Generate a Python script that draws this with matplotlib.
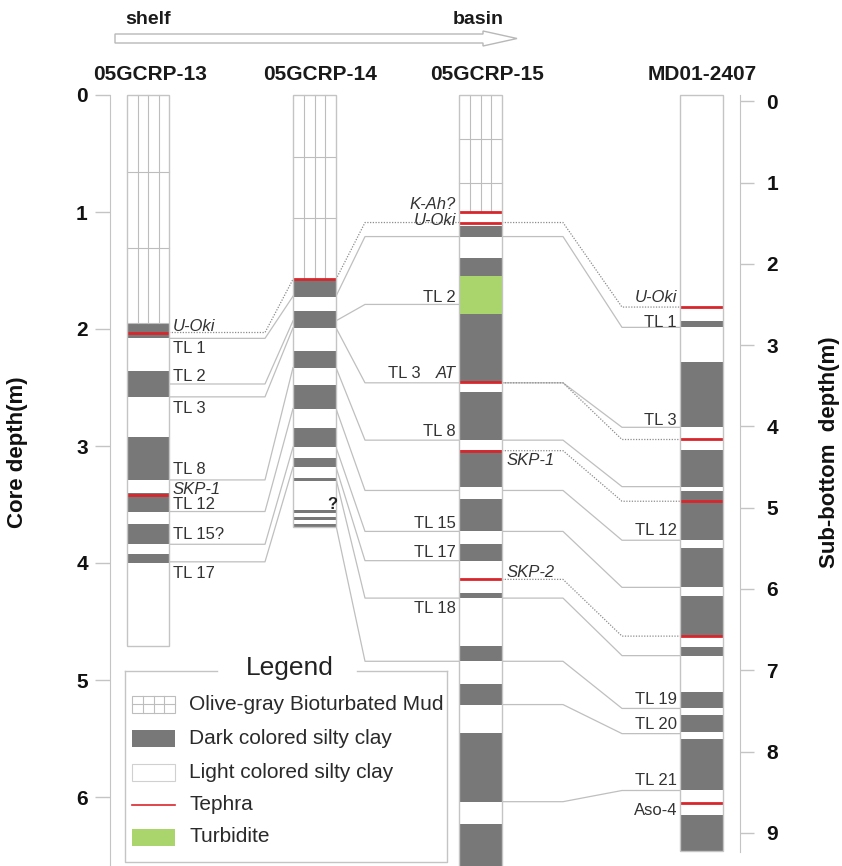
import matplotlib
matplotlib.use("Agg")
import matplotlib.pyplot as plt
from matplotlib.patches import Rectangle, Polygon

plt.rcParams['font.family'] = ['Liberation Sans', 'DejaVu Sans']

# ---------------- lithology data (depth in m) ----------------
# (top, base, kind): bio = olive-gray bioturbated mud, dark/light silty clay, turb = turbidite
core13_units = [(0.00, 1.95, 'bio'), (1.95, 2.08, 'dark'), (2.08, 2.36, 'light'), (2.36, 2.58, 'dark'),
                (2.58, 2.92, 'light'), (2.92, 3.29, 'dark'), (3.29, 3.40, 'light'), (3.40, 3.56, 'dark'),
                (3.56, 3.67, 'light'), (3.67, 3.84, 'dark'), (3.84, 3.92, 'light'), (3.92, 4.00, 'dark'),
                (4.00, 4.71, 'light')]
core13_tephra = [2.03, 3.42]
core13_grid = [0.66, 1.31]

core14_units = [(0.00, 1.57, 'bio'), (1.57, 1.73, 'dark'), (1.73, 1.85, 'light'), (1.85, 1.99, 'dark'),
                (1.99, 2.19, 'light'), (2.19, 2.33, 'dark'), (2.33, 2.48, 'light'), (2.48, 2.68, 'dark'),
                (2.68, 2.85, 'light'), (2.85, 3.01, 'dark'), (3.01, 3.10, 'light'), (3.10, 3.18, 'dark'),
                (3.18, 3.27, 'light'), (3.27, 3.295, 'dark'), (3.295, 3.55, 'light'), (3.55, 3.575, 'dark'),
                (3.575, 3.61, 'light'), (3.61, 3.635, 'dark'), (3.635, 3.665, 'light'), (3.665, 3.69, 'dark')]
core14_tephra = [1.575]
core14_grid = [0.53, 1.05]

core15_units = [(0.00, 1.00, 'bio'), (1.00, 1.12, 'light'), (1.12, 1.21, 'dark'), (1.21, 1.39, 'light'),
                (1.39, 1.55, 'dark'), (1.55, 1.87, 'turb'), (1.87, 2.46, 'dark'), (2.46, 2.54, 'light'),
                (2.54, 2.95, 'dark'), (2.95, 3.03, 'light'), (3.03, 3.35, 'dark'), (3.35, 3.45, 'light'),
                (3.45, 3.73, 'dark'), (3.73, 3.84, 'light'), (3.84, 3.98, 'dark'), (3.98, 4.26, 'light'),
                (4.26, 4.30, 'dark'), (4.30, 4.71, 'light'), (4.71, 4.84, 'dark'), (4.84, 5.03, 'light'),
                (5.03, 5.21, 'dark'), (5.21, 5.45, 'light'), (5.45, 6.04, 'dark'), (6.04, 6.23, 'light'),
                (6.23, 6.70, 'dark')]
core15_tephra = [1.00, 1.09, 2.455, 3.04, 4.14]
core15_grid = [0.38, 0.75]

md_units = [(0.00, 2.70, 'light'), (2.70, 2.78, 'dark'), (2.78, 3.21, 'light'), (3.21, 4.01, 'dark'),
            (4.01, 4.29, 'light'), (4.29, 4.74, 'dark'), (4.74, 4.80, 'light'), (4.80, 5.40, 'dark'),
            (5.40, 5.49, 'light'), (5.49, 5.98, 'dark'), (5.98, 6.08, 'light'), (6.08, 6.58, 'dark'),
            (6.58, 6.71, 'light'), (6.71, 6.82, 'dark'), (6.82, 7.27, 'light'), (7.27, 7.46, 'dark'),
            (7.46, 7.55, 'light'), (7.55, 7.76, 'dark'), (7.76, 7.85, 'light'), (7.85, 8.47, 'dark'),
            (8.47, 8.78, 'light'), (8.78, 9.23, 'dark')]
md_tephra = [2.53, 4.16, 4.92, 6.58, 8.63]

core_names = ['05GCRP-13', '05GCRP-14', '05GCRP-15', 'MD01-2407']

# ---------------- correlations: (depth in upper core, depth in lower core, dotted?) ----------------
tie_13_14 = [(2.03, 1.575, True), (2.08, 1.72, False), (2.47, 1.93, False), (2.58, 1.99, False),
             (3.29, 2.33, False), (3.56, 2.68, False), (3.84, 3.01, False), (3.99, 3.18, False)]
tie_14_15 = [(1.575, 1.09, True), (1.72, 1.21, False), (1.93, 1.79, False), (1.99, 2.46, False),
             (2.33, 2.95, False), (2.68, 3.38, False), (3.01, 3.73, False), (3.18, 3.98, False),
             (3.28, 4.30, False), (3.68, 4.84, False)]
tie_15_md = [(1.09, 2.53, True), (1.21, 2.78, False), (2.46, 4.01, False), (2.46, 4.16, True),
             (2.95, 4.74, False), (3.04, 4.92, True), (3.38, 5.40, False), (3.73, 5.98, False),
             (4.14, 6.58, True), (4.30, 6.82, False), (4.84, 7.47, False), (5.21, 7.78, False),
             (6.04, 8.48, False)]

# ---------------- labels: (text, depth, italic) ----------------
labels_13 = [('U-Oki', 1.98, True), ('TL 1', 2.17, False), ('TL 2', 2.41, False), ('TL 3', 2.68, False),
             ('TL 8', 3.20, False), ('SKP-1', 3.37, True), ('TL 12', 3.50, False), ('TL 15?', 3.76, False),
             ('TL 17', 4.09, False)]
labels_15_left = [('K-Ah?', 0.94, True), ('U-Oki', 1.07, True), ('TL 2', 1.73, False), ('AT', 2.38, True),
                  ('TL 8', 2.88, False), ('TL 15', 3.66, False), ('TL 17', 3.91, False), ('TL 18', 4.39, False)]
labels_15_right = [('SKP-1', 3.12, True), ('SKP-2', 4.08, True)]
labels_md = [('U-Oki', 2.41, True), ('TL 1', 2.72, False), ('TL 3', 3.93, False), ('TL 12', 5.28, False),
             ('TL 19', 7.36, False), ('TL 20', 7.67, False), ('TL 21', 8.36, False), ('Aso-4', 8.73, False)]

left_ticks = [0, 1, 2, 3, 4, 5, 6]
right_ticks = [0, 1, 2, 3, 4, 5, 6, 7, 8, 9]

# ---------------- styling ----------------
DARK = '#787878'
GREEN = '#a9d56c'
RED = '#d8262b'
EDGE = '#c4c4c4'
GRID = '#bdbdbd'
LINE = '#bfbfbf'
DOT = '#8c8c8c'
TXT = '#333333'

W, H = 842, 866
fig = plt.figure(figsize=(W / 100, H / 100), dpi=100)

canvas = fig.add_axes([0, 0, 1, 1])
canvas.set_xlim(0, W)
canvas.set_ylim(H, 0)
canvas.axis('off')

# depth scales: pixels per metre and pixel row of 0 m
L_SCALE, L_ZERO = 117.0, 95.0
R_SCALE, R_ZERO = 81.25, 101.5

ax = fig.add_axes([0, 0, 1, 1])
ax.patch.set_alpha(0)
ax.set_xlim(0, W)
ax.set_ylim((H - L_ZERO) / L_SCALE, -L_ZERO / L_SCALE)
ax2 = ax.twinx()
ax2.set_ylim((H - R_ZERO) / R_SCALE, -R_ZERO / R_SCALE)


def md_to_left(d):
    disp = ax2.transData.transform((0, d))
    return ax.transData.inverted().transform(disp)[1]


def left_to_md(d):
    disp = ax.transData.transform((0, d))
    return ax2.transData.inverted().transform(disp)[1]


MD_TOP = left_to_md(0.0)   # all core tops sit on one line

for a in (ax, ax2):
    for s in a.spines.values():
        s.set_visible(False)
    a.set_xticks([])

ax.spines['left'].set_visible(True)
ax.spines['left'].set_position(('data', 110))
ax.spines['left'].set_bounds(0, 6.6)
ax.spines['left'].set_color(EDGE)
ax.set_yticks(left_ticks)
ax.tick_params(axis='y', direction='out', length=11, width=1, color=EDGE, labelsize=15, pad=5,
               labelcolor='#111111')

ax2.spines['right'].set_visible(True)
ax2.spines['right'].set_position(('data', 740))
ax2.spines['right'].set_bounds(MD_TOP, 9.24)
ax2.spines['right'].set_color(EDGE)
ax2.set_yticks(right_ticks)
ax2.tick_params(axis='y', direction='out', length=10, width=1, color=EDGE, labelsize=15, pad=9,
                labelcolor='#111111')
for lbl in ax.get_yticklabels() + ax2.get_yticklabels():
    lbl.set_fontweight('bold')

X13, X14, X15, XMD = (127, 169), (293, 336), (459, 502), (680, 723)


def draw_core(axis, xs, units, tephra, grid, top_edge=0.0):
    x0, x1 = xs
    w = x1 - x0
    colors = {'dark': DARK, 'turb': GREEN, 'light': 'white', 'bio': 'white'}
    tops = [u[0] for u in units]
    bases = [u[1] for u in units]
    axis.bar([x0] * len(units), [b - t for t, b in zip(tops, bases)], bottom=tops, width=w,
             align='edge', color=[colors[u[2]] for u in units], edgecolor='none', zorder=3)
    for top, base, kind in units:
        if kind == 'bio':
            for k in range(1, 4):
                xv = x0 + w * k / 4
                axis.plot([xv, xv], [top, base], color=GRID, lw=0.8, zorder=4)
            for g in grid:
                axis.plot([x0, x1], [g, g], color=GRID, lw=0.8, zorder=4)
            axis.plot([x0, x1], [base, base], color=GRID, lw=0.8, zorder=4)
    for t in tephra:
        axis.plot([x0, x1], [t, t], color=RED, lw=2.0, zorder=5, solid_capstyle='butt')
    bottom = units[-1][1]
    axis.add_patch(Rectangle((x0, top_edge), w, bottom - top_edge, fill=False, edgecolor=EDGE,
                             lw=1, zorder=6))


draw_core(ax, X13, core13_units, core13_tephra, core13_grid)
draw_core(ax, X14, core14_units, core14_tephra, core14_grid)
draw_core(ax, X15, core15_units, core15_tephra, core15_grid)
draw_core(ax2, XMD, md_units, md_tephra, [], top_edge=MD_TOP)


def tie(xs, ys, dotted):
    if dotted:
        ax.plot(xs, ys, color=DOT, lw=0.9, ls=(0, (1, 1.2)), zorder=2)
    else:
        ax.plot(xs, ys, color=LINE, lw=0.9, zorder=2)


for da, db, dotted in tie_13_14:
    tie([X13[1], 265, X14[0]], [da, da, db], dotted)
for da, db, dotted in tie_14_15:
    tie([X14[1], 365, X15[0]], [da, db, db], dotted)
for da, db, dotted in tie_15_md:
    yb = md_to_left(db)
    tie([X15[1], 563, 622, XMD[0]], [da, da, yb, yb], dotted)

# ---------------- labels ----------------
def put(axis, x, d, text, italic, ha):
    axis.text(x, d, text, ha=ha, va='center', fontsize=12, color=TXT,
              style='italic' if italic else 'normal', zorder=7)


for text, d, it in labels_13:
    put(ax, 173, d, text, it, 'left')
for text, d, it in labels_15_left:
    put(ax, 456, d, text, it, 'right')
put(ax, 421, 2.38, 'TL 3', False, 'right')
for text, d, it in labels_15_right:
    put(ax, 507, d, text, it, 'left')
for text, d, it in labels_md:
    put(ax2, 677, d, text, it, 'right')
ax.text(332, 3.50, '?', ha='center', va='center', fontsize=12, fontweight='bold', color='#222222', zorder=7)

# ---------------- header ----------------
centers = [150, 320, 487, 702]
for name, cx in zip(core_names, centers):
    canvas.text(cx, 74, name, ha='center', va='center', fontsize=15, fontweight='bold', color='#1a1a1a')
canvas.text(148, 19, 'shelf', ha='center', va='center', fontsize=14, fontweight='bold', color='#1a1a1a')
canvas.text(478, 19, 'basin', ha='center', va='center', fontsize=14, fontweight='bold', color='#1a1a1a')
arrow = Polygon([(115, 34), (483, 34), (483, 31), (517, 38.5), (483, 46), (483, 43), (115, 43)],
                closed=True, facecolor='white', edgecolor='#b8b8b8', lw=1)
canvas.add_patch(arrow)

canvas.text(18, 452, 'Core depth(m)', rotation=90, ha='center', va='center', fontsize=16,
            fontweight='bold', color='#111111')
canvas.text(829, 452, 'Sub-bottom  depth(m)', rotation=90, ha='center', va='center', fontsize=16,
            fontweight='bold', color='#111111')

# ---------------- legend ----------------
lx0, lx1, ly0, ly1 = 125, 447, 671, 862
canvas.plot([lx0, 217], [ly0, ly0], color=EDGE, lw=1)
canvas.plot([357, lx1], [ly0, ly0], color=EDGE, lw=1)
canvas.plot([lx0, lx0, lx1, lx1], [ly0, ly1, ly1, ly0], color=EDGE, lw=1)
canvas.text(290, 668, 'Legend', ha='center', va='center', fontsize=19, color='#222222')

legend_items = ['Olive-gray Bioturbated Mud', 'Dark colored silty clay', 'Light colored silty clay',
                'Tephra', 'Turbidite']
rows = [704, 738, 772, 805, 837]
sx0, sx1, sh = 132, 175, 17
for item, ry in zip(legend_items, rows):
    if item.startswith('Olive'):
        canvas.add_patch(Rectangle((sx0, ry - sh / 2), sx1 - sx0, sh, facecolor='white', edgecolor=GRID, lw=0.8))
        for k in range(1, 4):
            xv = sx0 + (sx1 - sx0) * k / 4
            canvas.plot([xv, xv], [ry - sh / 2, ry + sh / 2], color=GRID, lw=0.8)
        canvas.plot([sx0, sx1], [ry, ry], color=GRID, lw=0.8)
    elif item.startswith('Dark'):
        canvas.add_patch(Rectangle((sx0, ry - sh / 2), sx1 - sx0, sh, facecolor=DARK, edgecolor='none'))
    elif item.startswith('Light'):
        canvas.add_patch(Rectangle((sx0, ry - sh / 2), sx1 - sx0, sh, facecolor='white', edgecolor='#d0d0d0', lw=0.8))
    elif item == 'Tephra':
        canvas.plot([sx0, sx1], [ry, ry], color=RED, lw=1.2)
    else:
        canvas.add_patch(Rectangle((sx0, ry - sh / 2), sx1 - sx0, sh, facecolor=GREEN, edgecolor='none'))
    canvas.text(189, ry, item, ha='left', va='center', fontsize=15, color='#2a2a2a')

fig.savefig('out.png', dpi=100)
